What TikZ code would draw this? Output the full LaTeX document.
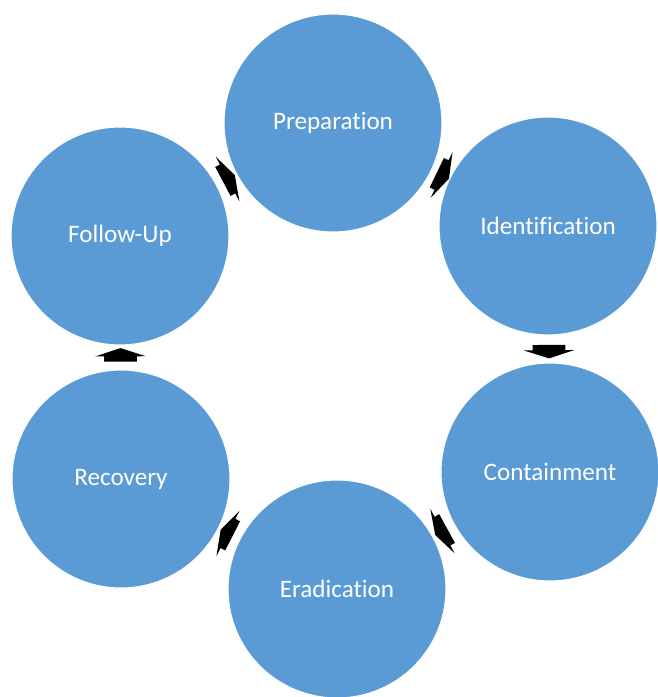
\documentclass[tikz,border=0pt]{standalone}
\usepackage{fontspec}
\setmainfont{Carlito}[Ligatures={NoCommon}]
\usetikzlibrary{shapes.arrows}
\definecolor{phaseblue}{HTML}{5B9BD5}

\begin{document}
\begin{tikzpicture}[x=0.02cm,y=-0.02cm,
  phase/.style={circle,fill=phaseblue,draw=white,line width=0.6pt,minimum size=4.36cm,inner sep=0pt,text=white,font=\fontsize{14.3}{17}\selectfont},
  flow/.style={single arrow,fill=black,draw=none,inner xsep=0pt,inner ysep=0.32cm,minimum height=0.27cm,single arrow head extend=0.18cm,single arrow tip angle=144,sloped,allow upside down}]
\useasboundingbox (0,0) rectangle (657,697);

\node[phase] (prep) at (333,123) {Preparation};
\node[phase] (iden) at (548,226) {Identification};
\node[phase] (cont) at (550,472) {Containment};
\node[phase] (erad) at (337,589) {Eradication};
\node[phase] (reco) at (121,479) {Recovery};
\node[phase] (foll) at (120,236) {Follow-Up};

\path (prep) -- (iden) node[midway,flow]{};
\path (iden) -- (cont) node[midway,flow]{};
\path (cont) -- (erad) node[midway,flow]{};
\path (erad) -- (reco) node[midway,flow]{};
\path (reco) -- (foll) node[midway,flow]{};
\path (foll) -- (prep) node[midway,flow]{};

\end{tikzpicture}
\end{document}
